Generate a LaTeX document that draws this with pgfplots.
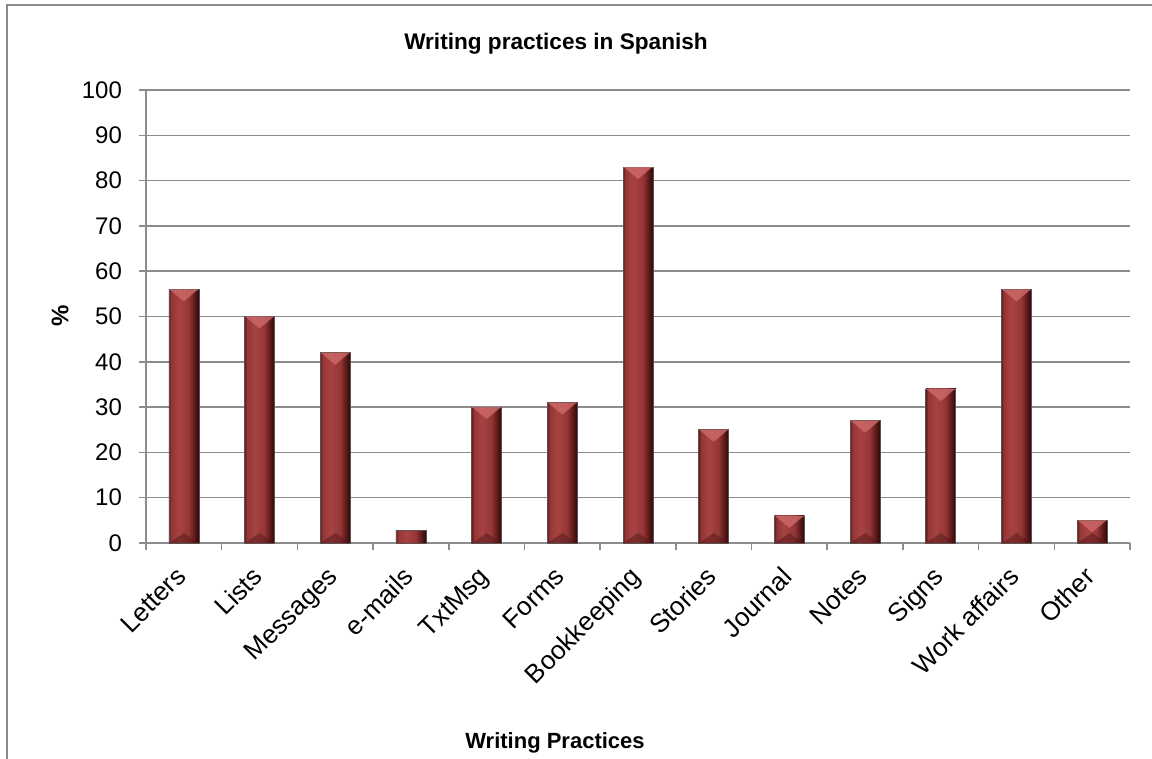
\documentclass[border=0pt]{standalone}
\usepackage{fontspec}
\setmainfont{Liberation Sans}
\usepackage{pgfplots}
\usepackage{pgfplotstable}
\pgfplotsset{compat=1.18}

\definecolor{gridgray}{HTML}{8C8C8C}
\definecolor{framegray}{HTML}{8A8A8A}
\definecolor{baredge}{HTML}{5E1D1D}
\definecolor{barlight}{HTML}{A84242}
\definecolor{barbody}{HTML}{943636}
\definecolor{barshadow}{HTML}{5A1818}
\definecolor{bardark}{HTML}{2C0909}
\definecolor{bevlight}{HTML}{D06A6A}
\definecolor{bevdark}{HTML}{4A1414}

% cylinder-like shading across each bar, brightest left of centre
\pgfdeclarehorizontalshading{barshade}{100bp}{%
  color(0bp)=(baredge); color(25bp)=(baredge); color(29bp)=(barbody);
  color(42bp)=(barlight); color(58bp)=(barbody); color(68bp)=(barshadow);
  color(75bp)=(bardark); color(100bp)=(bardark)}

% bevel facets of the bars: light wedge at the top, dark wedge at the base
\pgfdeclareplotmark{bevtop}{%
  \pgfpathmoveto{\pgfpoint{-7.2pt}{0pt}}%
  \pgfpathlineto{\pgfpoint{7.2pt}{0pt}}%
  \pgfpathlineto{\pgfpoint{0pt}{-6pt}}%
  \pgfpathclose\pgfusepathqfill}
\pgfdeclareplotmark{bevbot}{%
  \pgfpathmoveto{\pgfpoint{-7.2pt}{0pt}}%
  \pgfpathlineto{\pgfpoint{7.2pt}{0pt}}%
  \pgfpathlineto{\pgfpoint{0pt}{5pt}}%
  \pgfpathclose\pgfusepathqfill}

% bar tops used for the bevel facets (e-mails is too short to carry them)
\pgfplotstableread{
x  y   base
0  56  0
1  50  0
2  42  0
4  30  0
5  31  0
6  83  0
7  25  0
8  6   0
9  27  0
10 34  0
11 56  0
12 5   0
}\bevels

\pgfplotsset{
  practice bar/.style={ybar, bar width=15pt, draw=gray!60!bardark, line width=0.3pt,
    shading=barshade},
}

\begin{document}
\begin{tikzpicture}
\useasboundingbox (-73pt,-108pt) rectangle (503pt,271.5pt);
% outer chart frame
\draw[framegray, line width=1pt] (-69.5pt,-110pt) -- (-69.5pt,269pt) -- (505pt,269pt);
\begin{axis}[
  at={(0,0)}, anchor=south west,
  scale only axis, width=492pt, height=226.5pt,
  xmin=-0.5, xmax=12.5, ymin=0, ymax=100,
  axis lines=left,
  axis line style={-, draw=gridgray, line width=0.75pt},
  ymajorgrids,
  grid style={gridgray, line width=0.75pt},
  tick align=outside,
  major tick length=3.5pt,
  tick style={gridgray, line width=0.75pt},
  ytick={0,10,...,100},
  xtick={-0.5,0.5,...,12.5},
  xticklabels={},
  extra x ticks={0,1,...,12},
  extra x tick labels={Letters,Lists,Messages,e-mails,TxtMsg,Forms,Bookkeeping,Stories,Journal,Notes,Signs,Work affairs,Other},
  extra x tick style={major tick length=0pt, grid=none,
    xticklabel style={xshift=-4.6pt, yshift=-9.5pt, rotate=45, anchor=north east, inner sep=1pt,
      font=\fontsize{13}{15}\selectfont}},
  yticklabel style={font=\fontsize{12}{14}\selectfont, xshift=-5pt},
  /pgf/number format/assume math mode=true,
  clip=false,
]
% one plot per bar so that each bar carries its own shading
\addplot[practice bar] coordinates {(0,56)};
\addplot[practice bar] coordinates {(1,50)};
\addplot[practice bar] coordinates {(2,42)};
\addplot[practice bar] coordinates {(3,2.8)};
\addplot[practice bar] coordinates {(4,30)};
\addplot[practice bar] coordinates {(5,31)};
\addplot[practice bar] coordinates {(6,83)};
\addplot[practice bar] coordinates {(7,25)};
\addplot[practice bar] coordinates {(8,6)};
\addplot[practice bar] coordinates {(9,27)};
\addplot[practice bar] coordinates {(10,34)};
\addplot[practice bar] coordinates {(11,56)};
\addplot[practice bar] coordinates {(12,5)};
\addplot[only marks, mark=bevtop, mark options={fill=bevlight, fill opacity=0.8}]
  table[x=x, y=y] {\bevels};
\addplot[only marks, mark=bevbot, mark options={fill=bevdark, fill opacity=0.45}]
  table[x=x, y=base] {\bevels};
\end{axis}
\node[font=\bfseries\fontsize{11.3}{13}\selectfont] at (205pt,249.5pt) {Writing practices in Spanish};
\node[font=\bfseries\fontsize{12}{14}\selectfont, rotate=90] at (-43pt,113.5pt) {\%};
\node[font=\bfseries\fontsize{11}{13}\selectfont] at (204.5pt,-100pt) {Writing Practices};
\end{tikzpicture}
\end{document}
